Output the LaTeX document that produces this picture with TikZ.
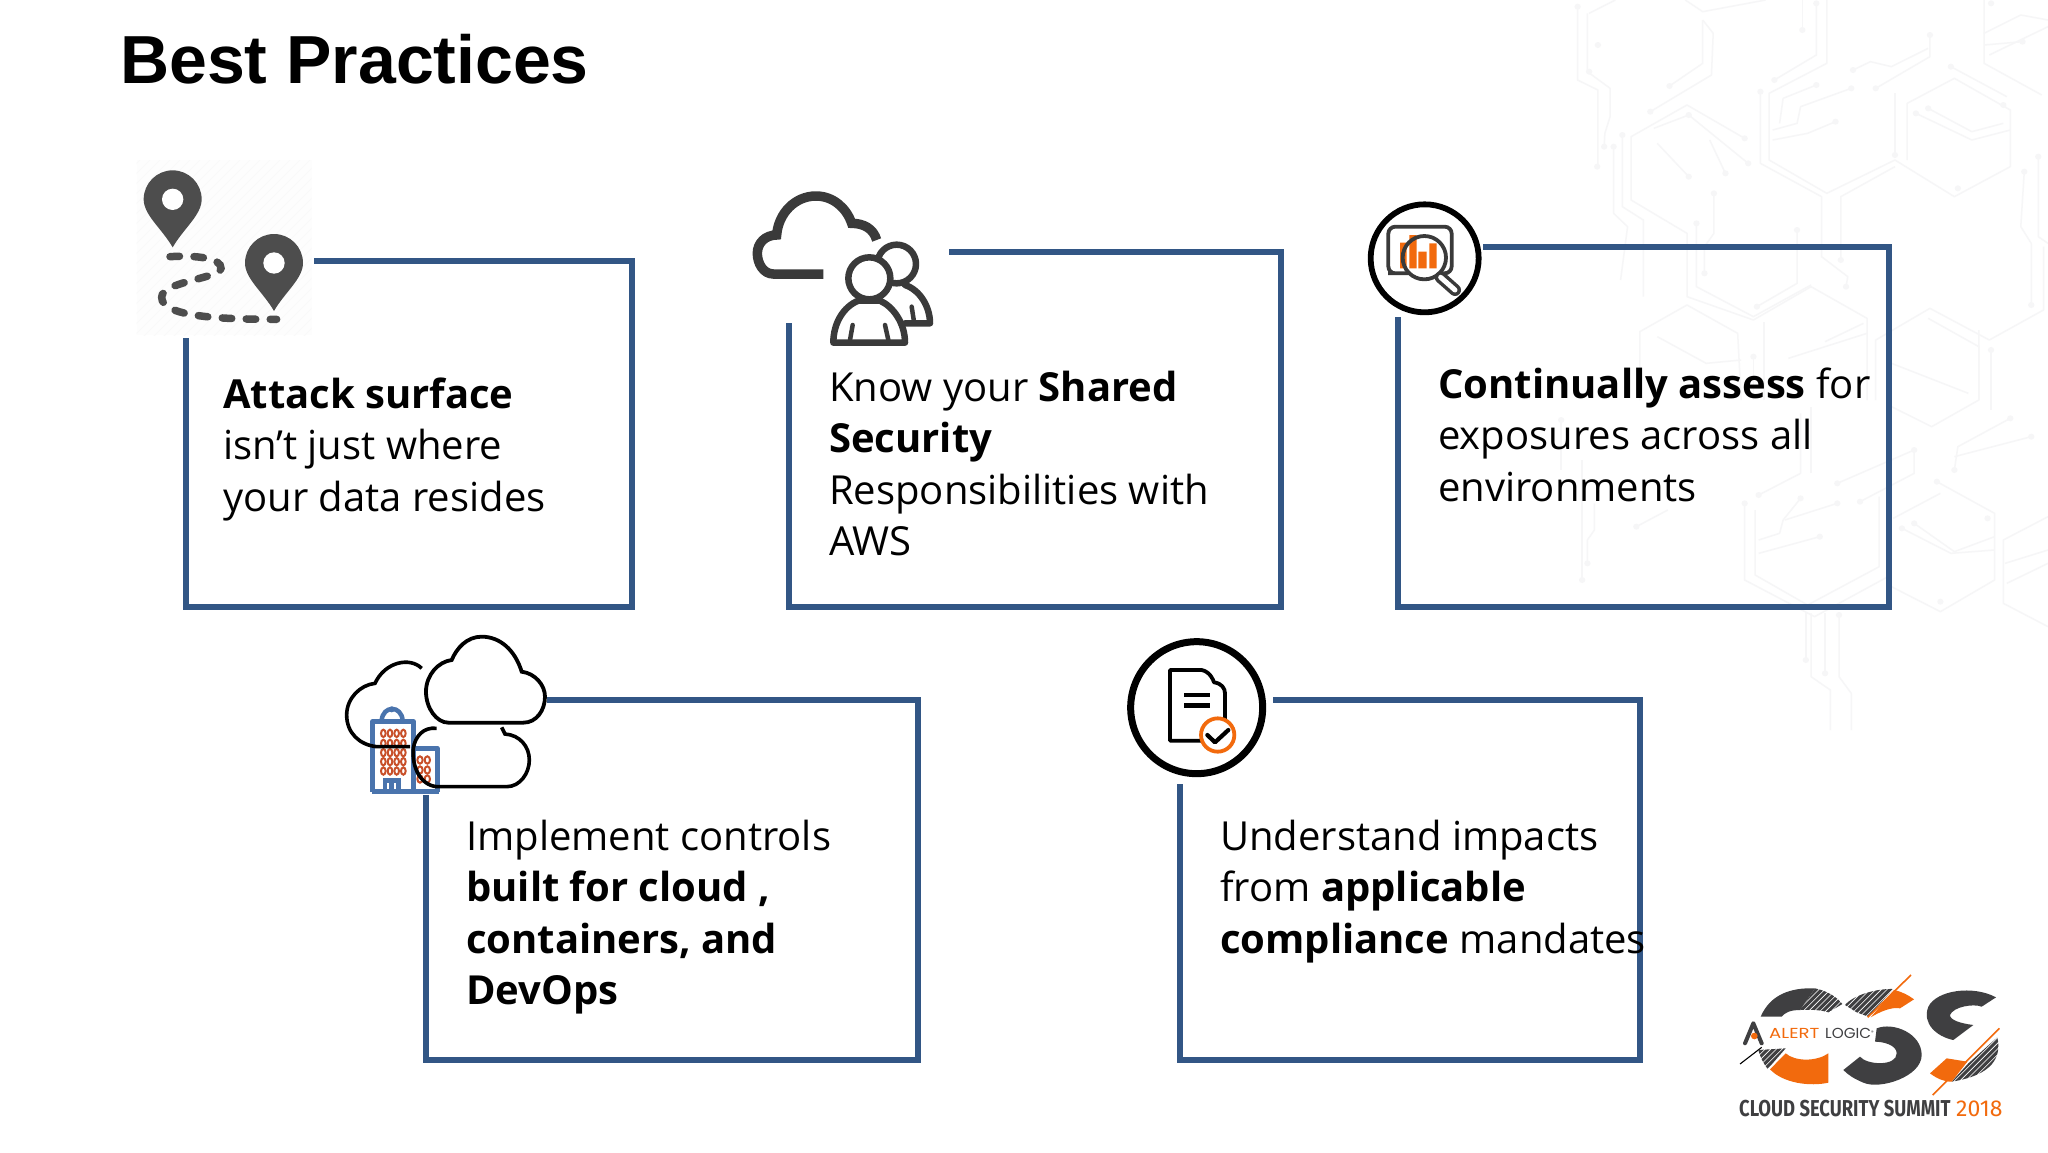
\documentclass[tikz,border=0pt]{standalone}
\usepackage{fontspec}
\setmainfont{Open Sans}
\newfontfamily\titlefont{Liberation Sans}
\newfontfamily\poppinsfont{Poppins}
\newfontfamily\firafont{Fira Sans}
\definecolor{boxblue}{HTML}{325685}
\definecolor{pingray}{HTML}{4D4D4D}
\definecolor{icondark}{HTML}{3A3A3A}
\definecolor{logodark}{HTML}{3F3F41}
\definecolor{logoorange}{HTML}{F26A0D}
\definecolor{circuit}{HTML}{F6F6F7}
\definecolor{bldblue}{HTML}{4A74AD}
\definecolor{winred}{HTML}{C8502A}
\tikzset{
  boxline/.style={draw=boxblue,line width=5.5pt,line join=miter},
  trace/.style={draw=circuit,line width=1.5pt,line join=round},
  slide/.style={font=\fontsize{40}{51.4}\selectfont,anchor=north west,inner sep=0pt,align=left,text=black},
  zoomed/.style={shift={#1},scale=1/3},
  wide/.style={shift={#1},xscale=0.3495,yscale=1/3},
  icondraw/.style={draw=icondark,line cap=round,line join=round},
}
\newcommand{\fs}{\rule{0pt}{36pt}}
\newcommand{\hatchfill}[1]{%
  \begin{scope}\clip #1;
    \foreach \t in {-400,-383,...,900}{\draw[logodark,line width=3.1pt] (\t,420)--(\t+420,0);}
  \end{scope}}
\begin{document}
\begin{tikzpicture}[x=1pt,y=-1pt]
\useasboundingbox (0,0) rectangle (2048,1152);
\fill[white] (0,0) rectangle (2048,1152);

% faint circuit background
\begin{scope}[wide={(1500,0)}]
\foreach \p in {
 {(222,20)--(222,240)--(280,270)--(280,500)},
 {(250,40)--(250,215)--(315,265)--(315,350)--(300,400)--(298,440)},
 {(255,40)--(330,0)},
 {(580,60)--(610,100)--(605,225)--(430,335)},
 {(580,60)--(580,190)--(485,258)},
 {(530,0)--(580,35)--(760,0)},
 {(700,415)--(535,315)--(375,410)--(375,600)--(535,700)--(535,890)--(725,960)--(890,860)--(1050,955)--(1050,1200)},
 {(350,405)--(350,620)--(410,660)--(410,890)},
 {(325,440)--(325,640)--(365,680)--(345,840)},
 {(440,385)--(540,345)--(710,490)},
 {(450,430)--(540,530)},
 {(600,420)--(645,520)},
 {(612,580)--(612,700)--(585,740)--(585,820)},
 {(562,670)--(562,860)--(725,950)--(890,855)},
 {(850,690)--(850,850)--(735,920)},
 {(905,10)--(905,165)--(785,240)},
 {(935,0)--(935,190)--(770,280)--(770,480)--(935,580)--(1130,480)--(1300,590)--(1460,500)--(1460,330)--(1300,235)--(1165,310)--(1165,480)},
 {(745,275)--(745,490)--(920,590)--(920,770)--(995,830)--(990,860)},
 {(975,780)--(975,590)--(1130,500)},
 {(865,0)--(865,90)},
 {(1230,105)--(1230,170)--(1075,265)},
 {(1225,145)--(1120,200)--(1060,185)--(1010,210)},
 {(1130,280)--(1130,465)},
 {(1005,265)--(860,320)--(850,370)--(780,390)},
 {(960,365)--(880,400)--(780,420)},
 {(905,255)--(810,295)--(800,370)},
 {(1290,200)--(1450,290)},
 {(1190,340)--(1350,420)--(1460,390)},
 {(1225,325)--(1350,395)--(1440,370)},
 {(1385,0)--(1385,190)--(1550,285)},
 {(1385,100)--(1490,45)--(1568,60)},
 {(1385,135)--(1495,125)},
 {(1400,165)--(1568,80)},
 {(1540,470)--(1540,710)--(1568,730)},
 {(1500,515)--(1490,680)--(1520,730)--(1520,915)},
 {(1555,740)--(1555,930)--(1400,1020)--(1230,925)--(1075,1020)--(1075,1200)},
 {(400,1200)--(400,995)--(535,915)--(680,1000)--(690,1200)},
 {(450,1010)--(590,1090)--(690,1080)},
 {(755,1200)--(755,965)},
 {(725,1070)--(725,1200)},
 {(930,1025)--(1040,970)},
 {(825,1075)--(900,1050)--(1050,1000)},
 {(1225,955)--(1370,1040)--(1370,1200)},
 {(1405,1040)--(1405,1200)}}
 {\draw[trace] \p;}
\foreach \a/\b in {222/20,280/135,298/440,278/500,255/215,325/440,350/405,430/335,485/258,540/345,700/415,710/490,540/530,645/520,612/580,562/670,585/820,850/690,735/920,785/240,905/10,865/90,745/275,975/780,990/860,1230/105,1075/265,1010/210,1130/465,1005/265,960/365,905/255,1290/200,1190/340,1225/325,1440/315,1310/565,1495/125,1405/10,1500/515,1520/915,1540/470,1405/1050,725/1070}
 {\fill[circuit] (\a,\b) circle[radius=9];}
\end{scope}
\begin{scope}[wide={(1500,330)}]
\foreach \p in {
 {(1370,0)--(1370,210)--(1235,290)--(1120,230)},
 {(1405,60)--(1405,240)},
 {(1120,100)--(1340,190)},
 {(1460,265)--(1310,350)--(1300,420)},
 {(1520,320)--(1300,380)},
 {(1250,455)--(1415,550)--(1415,750)--(1260,845)--(1120,770)},
 {(1260,490)--(1125,565)},
 {(1185,580)--(1300,665)--(1415,620)},
 {(1150,595)--(1290,670)--(1415,660)},
 {(1568,560)--(1440,630)--(1440,820)--(1568,890)},
 {(1450,760)--(1568,700)},
 {(1445,700)--(1568,660)},
 {(700,520)--(700,750)--(900,860)--(1110,740)},
 {(730,540)--(730,735)--(880,825)--(1085,710)--(1085,500)},
 {(740,495)--(860,430)--(860,250)},
 {(890,430)--(890,230)},
 {(815,570)--(965,520)},
 {(740,630)--(800,610)--(810,570)--(860,505)},
 {(740,670)--(915,620)},
 {(965,460)--(1185,360)},
 {(1030,515)--(1185,430)--(1185,360)},
 {(235,390)--(235,750)},
 {(270,520)--(270,600)--(250,630)--(250,700)},
 {(390,590)--(480,540)},
 {(175,270)--(175,420)},
 {(875,850)--(875,990)},
 {(890,850)--(890,1040)--(945,1080)--(945,1200)},
 {(930,850)--(930,1030)},
 {(970,850)--(970,1040)--(1005,1090)--(1005,1200)}}
 {\draw[trace] \p;}
\foreach \a/\b in {1460/265,1520/320,1300/420,1250/455,1395/565,1150/595,1185/580,1260/815,700/520,740/495,965/520,860/505,915/620,965/460,1030/515,1185/360,235/750,250/700,390/590,175/270,875/990,930/1030,970/855}
 {\fill[circuit] (\a,\b) circle[radius=9];}
\end{scope}

% title
\node[anchor=base west,inner sep=0pt] (title) at (120,83) {\titlefont\bfseries\fontsize{68}{70}\selectfont Best Practices};

% boxes
\draw[boxline] (314,261)--(632,261)--(632,607)--(186,607)--(186,338);
\draw[boxline] (949,252)--(1281,252)--(1281,607)--(789,607)--(789,323);
\draw[boxline] (1483,247)--(1889,247)--(1889,607)--(1398,607)--(1398,317);
\draw[boxline] (547,700)--(918,700)--(918,1060)--(426,1060)--(426,795);
\draw[boxline] (1273,700)--(1640,700)--(1640,1060)--(1180,1060)--(1180,784);

% texts
\node[slide] (t1) at (223,372) {\fs\textbf{Attack surface}\\isn’t just where\\your data resides};
\node[slide] (t2) at (829,365) {\fs Know your \textbf{Shared}\\\textbf{Security}\\Responsibilities with\\AWS};
\node[slide] (t3) at (1438,362) {\fs\textbf{Continually assess} for\\exposures across all\\environments};
\node[slide] (t4) at (466,814) {\fs Implement controls\\\textbf{built for cloud ,}\\\textbf{containers, and}\\\textbf{DevOps}};
\node[slide] (t5) at (1220,814) {\fs Understand impacts\\from \textbf{applicable}\\\textbf{compliance} mandates};

% icon 1
\begin{scope}[zoomed={(120,150)}]
\fill[black!0.8] (50,30) rectangle (575,555);
\begin{scope}\clip (50,30) rectangle (575,555);
 \foreach \t in {-500,-470,...,600}{\draw[black!2.5,line width=0.8pt] (\t,560)--(\t+530,30);}
\end{scope}
\foreach \dx/\dy in {0/0,304/191}{
 \begin{scope}[shift={(\dx,\dy)}]
 \fill[pingray] (158,292) .. controls (125,235) and (71,195) .. (71,148) .. controls (71,100) and (110,61) .. (158,61) .. controls (206,61) and (245,100) .. (245,148) .. controls (245,195) and (191,235) .. (158,292) -- cycle;
 \fill[white] (158,148) circle[radius=32];
 \end{scope}}
\draw[pingray,line width=7.5pt,line cap=round,dash pattern=on 9.5pt off 14.5pt] (150,320) .. controls (230,315) and (305,325) .. (303,355) .. controls (300,385) and (125,395) .. (125,442) .. controls (125,500) and (300,508) .. (470,508);
\end{scope}

% icon 2
\begin{scope}[zoomed={(730,170)}]
\draw[icondark,line width=9.5pt] (280,312)--(130,312) .. controls (100,312) and (82,280) .. (82,250) .. controls (82,220) and (105,195) .. (140,195) .. controls (145,130) and (195,78) .. (258,78) .. controls (310,78) and (350,115) .. (365,160) .. controls (400,160) and (430,175) .. (440,210);
\draw[icondraw,line width=6.5pt] (500,282) circle[radius=58];
\draw[icondraw,line width=6.5pt] (525,345) .. controls (570,360) and (600,410) .. (600,460)--(525,460);
\draw[icondraw,line width=4.5pt] (545,410)--(552,455);
\draw[icondraw,line width=6.5pt,fill=white] (310,518)--(525,518) .. controls (525,460) and (490,410) .. (450,392)--(385,392) .. controls (340,410) and (310,460) .. (310,518)--cycle;
\draw[icondraw,line width=6.5pt,fill=white] (418,325) circle[radius=63];
\draw[icondraw,line width=4.5pt] (368,465)--(360,510) (465,465)--(475,510);
\end{scope}

% icon 3
\begin{scope}[zoomed={(1350,180)}]
\draw[black,line width=5.8pt] (224,235) circle[radius=162];
\fill[logoorange] (150,188) rectangle (170,265) (178,165) rectangle (200,265);
\draw[icondark,line width=3.8pt,rounded corners=7pt] (175,280)--(135,280) -- (115,280)--(115,140)--(305,140)--(305,280)--(280,280);
\fill[logoorange] (205,215) rectangle (230,265) (238,190) rectangle (260,265);
\draw[icondark,line width=3.8pt] (223,233) circle[radius=65];
\draw[icondark,line width=12pt,line cap=round] (272,292)--(315,330);
\draw[white,line width=5pt,line cap=round] (272,292)--(315,330);
\end{scope}

% icon 4
\begin{scope}[zoomed={(330,620)}]
\fill[white] (128,305) rectangle (325,520);
\draw[bldblue,line width=5pt,line join=round] (128,515)--(128,305)--(250,305)--(250,515);
\draw[bldblue,line width=5pt,line join=round] (250,385)--(322,385)--(322,515);
\draw[bldblue,line width=5.5pt] (125,515)--(326,515);
\draw[bldblue,line width=4.5pt] (155,302) .. controls (158,255) and (215,255) .. (218,302);
\fill[bldblue] (185,268) circle[radius=9];
\draw[bldblue,line width=4.5pt] (165,510)--(165,482)--(205,482)--(205,510) (185,482)--(185,510);
\foreach \x in {160,180,200,220}{\foreach \y in {340,370,398,425,453}{\draw[winred,line width=2pt] (\x,\y) ellipse[x radius=7,y radius=11];}}
\foreach \x in {270,292}{\foreach \y in {420,450,477}{\draw[winred,line width=2pt] (\x,\y) ellipse[x radius=8,y radius=11];}}
\draw[black,line width=3.6pt,line cap=butt] (275,145) .. controls (240,110) and (165,125) .. (135,190) .. controls (90,195) and (50,235) .. (50,285) .. controls (50,340) and (90,375) .. (140,380)--(240,380);
\draw[black,line width=3.6pt] (320,325) .. controls (280,320) and (255,350) .. (250,385) .. controls (245,440) and (270,495) .. (320,500)--(530,500) .. controls (570,500) and (598,460) .. (598,420) .. controls (598,380) and (570,345) .. (525,342)--(515,322);
\draw[black,line width=3.8pt,fill=white] (355,308)--(580,308) .. controls (620,308) and (645,270) .. (645,230) .. controls (645,195) and (615,160) .. (575,155) .. controls (555,90) and (510,50) .. (455,50) .. controls (410,50) and (380,85) .. (365,120) .. controls (325,125) and (288,165) .. (288,215) .. controls (288,265) and (320,308) .. (355,308)--cycle;
\end{scope}

% icon 5
\begin{scope}[zoomed={(1110,625)}]
\draw[black,line width=7pt] (260,248) circle[radius=198];
\draw[black,line width=3.8pt,line join=round] (275,347)--(180,347)--(180,135)--(275,135) .. controls (300,140) and (310,165) .. (312,172) .. controls (335,175) and (345,190) .. (345,205)--(345,285);
\draw[black,line width=4.6pt] (222,210)--(300,210) (222,242)--(300,242);
\draw[logoorange,line width=3.8pt,fill=white] (323,330) circle[radius=50];
\draw[black,line width=4.2pt,line cap=round,line join=round] (292,330)--(315,352)--(355,315);
\end{scope}

% logo
\begin{scope}[zoomed={(1720,960)}]
\fill[logodark] (122,170) .. controls (150,105) and (210,82) .. (285,85)--(240,150) .. controls (210,150) and (195,158) .. (185,170)--cycle;
\hatchfill{(285,85) .. controls (320,92) and (350,110) .. (367,132)--(325,157) .. controls (305,150) and (270,148) .. (240,150)--cycle}
\hatchfill{(115,270)--(197,265)--(143,327) .. controls (130,310) and (120,290) .. (115,270)--cycle}
\fill[logoorange] (197,280)--(150,328) .. controls (190,370) and (270,380) .. (325,368)--(325,280) .. controls (290,305) and (225,305) .. (197,280)--cycle;
\hatchfill{(375,135) .. controls (400,105) and (470,85) .. (520,87)--(445,170)--(410,157)--cycle}
\fill[logoorange] (522,90) .. controls (545,95) and (565,105) .. (582,118)--(540,145) .. controls (515,140) and (480,155) .. (452,172)--cycle;
\draw[logoorange,line width=1.6pt] (573,45)--(443,172);
\fill[logodark] (470,205) .. controls (520,185) and (605,220) .. (605,285) .. controls (605,350) and (480,390) .. (430,368) .. controls (400,355) and (385,345) .. (370,330)--(420,290) .. controls (440,315) and (530,320) .. (530,280) .. controls (530,255) and (490,245) .. (465,245)--cycle;
\fill[logodark] (828,112) .. controls (760,75) and (650,90) .. (625,140) .. controls (605,190) and (650,230) .. (700,240)--(760,195) .. controls (720,190) and (690,180) .. (690,165) .. controls (700,140) and (760,130) .. (785,140)--cycle;
\hatchfill{(832,232) .. controls (845,290) and (820,345) .. (695,365)--(745,310)--cycle}
\fill[logoorange] (630,340)--(680,295)--(742,305)--(695,365) .. controls (670,365) and (650,355) .. (630,340)--cycle;
\draw[logoorange,line width=1.6pt] (838,205)--(638,405);
\draw[logodark,line width=4pt,line cap=round] (100,190)--(75,250) (100,190)--(125,250);
\fill[logoorange] (103,228) circle[radius=10];
\draw[black,line width=1.1pt] (60,312)--(125,262);
\end{scope}
\node[anchor=base west,inner sep=0pt] (alert) at (1769,1038) {\poppinsfont\fontsize{14.5}{16}\selectfont\textcolor{logoorange}{\scalebox{1.25}[1]{ALERT}}};
\node[anchor=base west,inner sep=0pt] (logic) at (1825,1038) {\poppinsfont\fontsize{14.5}{16}\selectfont\textcolor{logodark}{\scalebox{1.05}[1]{LOGIC}}\raisebox{4pt}{\fontsize{5}{5}\selectfont\textcolor{logodark}{®}}};
\node[anchor=base west,inner sep=0pt] (css) at (1739,1116) {\firafont\bfseries\fontsize{23}{25}\selectfont\textcolor{logodark}{\scalebox{0.8}[1]{CLOUD SECURITY SUMMIT}}};
\node[anchor=base west,inner sep=0pt] (year) at (1956,1116) {\firafont\fontsize{23}{25}\selectfont\textcolor{logoorange}{\scalebox{1}[1]{2018}}};
\end{tikzpicture}
\end{document}
